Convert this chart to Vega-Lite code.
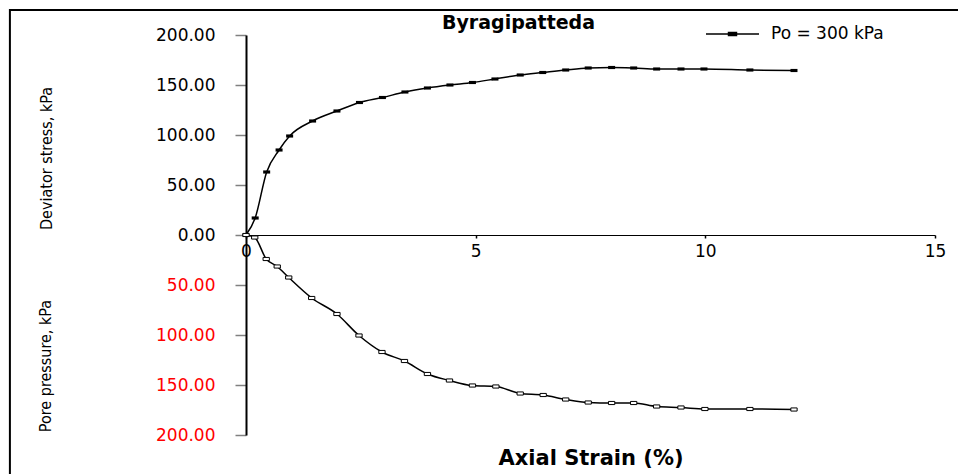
{
  "$schema": "https://vega.github.io/schema/vega-lite/v6.json",
  "width": 689,
  "height": 400,
  "autosize": {"type": "none"},
  "padding": {"left": 246, "top": 35, "right": 23, "bottom": 39},
  "background": "white",
  "config": {"view": {"stroke": null}, "axis": {"grid": false}},
  "title": {"text": "Byragipatteda", "font": "DejaVu Sans", "fontWeight": "bold", "fontSize": 19, "color": "black", "anchor": "middle", "dx": -72, "dy": 48, "offset": 7, "baseline": "alphabetic"},
  "datasets": {
    "deviator": [
      {"strain": 0, "stress": 0},
      {"strain": 0.2, "stress": 17},
      {"strain": 0.45, "stress": 63},
      {"strain": 0.72, "stress": 85},
      {"strain": 0.95, "stress": 99},
      {"strain": 1.45, "stress": 114},
      {"strain": 1.98, "stress": 124},
      {"strain": 2.47, "stress": 132.5},
      {"strain": 2.97, "stress": 137.5},
      {"strain": 3.46, "stress": 143},
      {"strain": 3.95, "stress": 147},
      {"strain": 4.44, "stress": 150},
      {"strain": 4.93, "stress": 152.5},
      {"strain": 5.42, "stress": 156},
      {"strain": 5.97, "stress": 160},
      {"strain": 6.46, "stress": 162.5},
      {"strain": 6.96, "stress": 165},
      {"strain": 7.45, "stress": 167},
      {"strain": 7.96, "stress": 167.5},
      {"strain": 8.44, "stress": 167},
      {"strain": 8.94, "stress": 166},
      {"strain": 9.47, "stress": 166},
      {"strain": 9.97, "stress": 166},
      {"strain": 10.97, "stress": 165},
      {"strain": 11.93, "stress": 164.5}
    ],
    "pore": [
      {"strain": 0, "pressure": 0},
      {"strain": 0.19, "pressure": 2.5},
      {"strain": 0.44, "pressure": 24},
      {"strain": 0.68, "pressure": 31.5},
      {"strain": 0.93, "pressure": 42.5},
      {"strain": 1.43, "pressure": 63},
      {"strain": 1.98, "pressure": 79},
      {"strain": 2.46, "pressure": 100.5},
      {"strain": 2.96, "pressure": 117},
      {"strain": 3.45, "pressure": 126},
      {"strain": 3.95, "pressure": 139},
      {"strain": 4.43, "pressure": 145.5},
      {"strain": 4.93, "pressure": 150.5},
      {"strain": 5.44, "pressure": 151.5},
      {"strain": 5.97, "pressure": 158.5},
      {"strain": 6.47, "pressure": 160},
      {"strain": 6.96, "pressure": 164.5},
      {"strain": 7.45, "pressure": 167.5},
      {"strain": 7.96, "pressure": 168},
      {"strain": 8.44, "pressure": 168},
      {"strain": 8.94, "pressure": 171.5},
      {"strain": 9.47, "pressure": 172.5},
      {"strain": 9.99, "pressure": 174},
      {"strain": 10.97, "pressure": 174},
      {"strain": 11.93, "pressure": 174.5}
    ]
  },
  "resolve": {"scale": {"y": "independent"}},
  "layer": [
    {
      "data": {"name": "deviator"},
      "layer": [
        {
          "mark": {"type": "line", "color": "black", "strokeWidth": 1.5, "interpolate": "monotone"},
          "encoding": {
            "x": {
              "field": "strain", "type": "quantitative",
              "scale": {"domain": [0, 15], "nice": false, "zero": false},
              "axis": {
                "values": [0, 5, 10, 15], "offset": -200,
                "domainColor": "black", "domainWidth": 1,
                "tickColor": "black", "tickSize": 3, "tickWidth": 1.5,
                "labelFont": "DejaVu Sans", "labelFontSize": 17, "labelColor": "black",
                "labelPadding": 5, "labelFlush": false,
                "title": "Axial Strain (%)", "titleFont": "DejaVu Sans", "titleFontWeight": "bold",
                "titleFontSize": 21, "titleColor": "black", "titleY": 223, "titleBaseline": "middle",
                "grid": false
              }
            },
            "y": {
              "field": "stress", "type": "quantitative",
              "scale": {"domain": [-200, 200], "nice": false, "zero": false},
              "axis": {
                "values": [-200, -150, -100, -50, 0, 50, 100, 150, 200],
                "labelExpr": "format(abs(datum.value), '.2f')",
                "labelColor": {"condition": {"test": "datum.value < 0", "value": "#ff0000"}, "value": "black"},
                "labelFont": "DejaVu Sans", "labelFontSize": 17, "labelPadding": 20,
                "tickSize": 11, "tickColor": "#808080", "tickWidth": 1.5,
                "domainColor": "black", "domainWidth": 2,
                "title": "Deviator stress, kPa", "titleFont": "DejaVu Sans Condensed, Liberation Sans, sans-serif",
                "titleFontSize": 16, "titleFontWeight": "normal", "titleColor": "black",
                "titleAngle": 270, "titleX": -200, "titleY": 123,
                "titleAlign": "center", "titleBaseline": "middle",
                "grid": false
              }
            },
            "color": {
              "datum": "Po = 300 kPa",
              "scale": {"range": ["black"]},
              "legend": {
                "orient": "none", "legendX": 459, "legendY": -28.5, "title": null, "padding": 0,
                "symbolType": "M-1,0H1M-0.15,-0.06H0.15V0.06H-0.15Z",
                "symbolSize": 2809, "symbolStrokeWidth": 1.5,
                "symbolFillColor": "black", "symbolStrokeColor": "black",
                "labelFont": "DejaVu Sans", "labelFontSize": 17, "labelColor": "black", "labelOffset": 11
              }
            }
          }
        },
        {
          "mark": {"type": "point", "shape": "M-1,-0.45H1V0.45H-1Z", "filled": true, "size": 49, "opacity": 1},
          "encoding": {
            "x": {"field": "strain", "type": "quantitative"},
            "y": {"field": "stress", "type": "quantitative"},
            "color": {"datum": "Po = 300 kPa"}
          }
        },
        {
          "data": {"values": [{}]},
          "mark": {"type": "rect", "fill": null, "fillOpacity": 0, "stroke": "black", "strokeWidth": 2},
          "encoding": {
            "x": {"datum": -5.14, "type": "quantitative"},
            "x2": {"datum": 17},
            "y": {"datum": 225, "type": "quantitative"},
            "y2": {"datum": -270}
          }
        },
        {
          "data": {"values": [{}]},
          "mark": {"type": "text", "text": "Pore pressure, kPa", "angle": 270, "font": "DejaVu Sans Condensed, Liberation Sans, sans-serif", "fontSize": 16, "fontWeight": "normal", "align": "center", "baseline": "middle", "color": "black"},
          "encoding": {
            "x": {"datum": -4.354, "type": "quantitative"},
            "y": {"datum": -131, "type": "quantitative"}
          }
        }
      ]
    },
    {
      "data": {"name": "pore"},
      "layer": [
        {
          "mark": {"type": "line", "color": "black", "strokeWidth": 1.5, "interpolate": "monotone"},
          "encoding": {
            "x": {"field": "strain", "type": "quantitative"},
            "y": {"field": "pressure", "type": "quantitative", "scale": {"domain": [-200, 200], "nice": false, "zero": false, "reverse": true}, "axis": null}
          }
        },
        {
          "mark": {"type": "point", "shape": "M-0.9,-0.45H0.9V0.45H-0.9Z", "filled": false, "fill": "white", "fillOpacity": 1, "stroke": "black", "strokeWidth": 1, "size": 49, "opacity": 1},
          "encoding": {
            "x": {"field": "strain", "type": "quantitative"},
            "y": {"field": "pressure", "type": "quantitative", "axis": null}
          }
        }
      ]
    }
  ]
}
